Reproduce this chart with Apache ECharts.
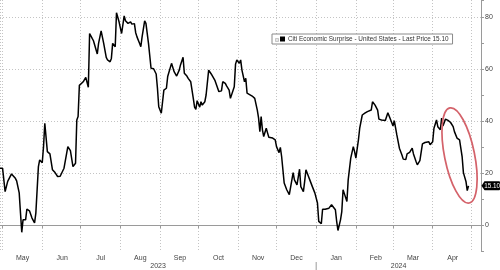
<!DOCTYPE html>
<html><head><meta charset="utf-8">
<script src="https://cdn.jsdelivr.net/npm/echarts@6/dist/echarts.min.js"></script>
<style>html,body{margin:0;padding:0;background:#fff}#c{width:500px;height:270px}</style>
</head><body><div id="c"></div>
<script>
// ---- data ----
const dates = [
'2023-04-29','2023-05-01','2023-05-03','2023-05-05','2023-05-06','2023-05-08','2023-05-11','2023-05-12','2023-05-14','2023-05-15','2023-05-16','2023-05-17','2023-05-19','2023-05-20','2023-05-22','2023-05-24','2023-05-26','2023-05-27','2023-05-29','2023-05-30',
'2023-06-01','2023-06-02','2023-06-03','2023-06-05','2023-06-07','2023-06-09','2023-06-11','2023-06-13','2023-06-15','2023-06-16','2023-06-18','2023-06-19','2023-06-21','2023-06-23','2023-06-24','2023-06-25','2023-06-27','2023-06-28','2023-06-29','2023-06-30',
'2023-07-03','2023-07-05','2023-07-06','2023-07-07','2023-07-08','2023-07-10','2023-07-11','2023-07-12','2023-07-14','2023-07-15','2023-07-17','2023-07-18','2023-07-19','2023-07-21','2023-07-22','2023-07-24','2023-07-25','2023-07-26','2023-07-28','2023-07-29','2023-07-31',
'2023-08-02','2023-08-04','2023-08-05','2023-08-07','2023-08-09','2023-08-10','2023-08-12','2023-08-13','2023-08-14','2023-08-16','2023-08-17','2023-08-18','2023-08-20','2023-08-21','2023-08-23','2023-08-25','2023-08-27','2023-08-29','2023-08-30','2023-08-31',
'2023-09-02','2023-09-03','2023-09-04','2023-09-06','2023-09-07','2023-09-10','2023-09-11','2023-09-12','2023-09-14','2023-09-16','2023-09-17','2023-09-19','2023-09-20','2023-09-22','2023-09-23','2023-09-25','2023-09-27','2023-09-28','2023-09-29','2023-09-30',
'2023-10-01','2023-10-02','2023-10-03','2023-10-04','2023-10-06','2023-10-07','2023-10-08','2023-10-09','2023-10-11','2023-10-13','2023-10-14','2023-10-15','2023-10-17','2023-10-19','2023-10-20','2023-10-22','2023-10-23','2023-10-25','2023-10-26','2023-10-27','2023-10-29','2023-10-30','2023-10-31',
'2023-11-02','2023-11-03','2023-11-04','2023-11-06','2023-11-07','2023-11-08','2023-11-09','2023-11-12','2023-11-14','2023-11-16','2023-11-17','2023-11-18','2023-11-19','2023-11-20','2023-11-21','2023-11-23','2023-11-24','2023-11-25','2023-11-28','2023-11-30',
'2023-12-01','2023-12-03','2023-12-04','2023-12-05','2023-12-07','2023-12-09','2023-12-11','2023-12-12','2023-12-14','2023-12-15','2023-12-17','2023-12-19','2023-12-20','2023-12-22','2023-12-23','2023-12-24','2023-12-26','2023-12-27','2023-12-29','2023-12-31',
'2024-01-02','2024-01-03','2024-01-05','2024-01-06','2024-01-08','2024-01-09','2024-01-11','2024-01-13','2024-01-14','2024-01-16','2024-01-17','2024-01-18','2024-01-20','2024-01-21','2024-01-22','2024-01-23','2024-01-25','2024-01-26','2024-01-28','2024-01-30','2024-01-31',
'2024-02-01','2024-02-03','2024-02-04','2024-02-06','2024-02-08','2024-02-10','2024-02-11','2024-02-13','2024-02-14','2024-02-16','2024-02-18','2024-02-19','2024-02-21','2024-02-22','2024-02-24','2024-02-26','2024-02-27','2024-02-29',
'2024-03-01','2024-03-02','2024-03-03','2024-03-04','2024-03-05','2024-03-06','2024-03-08','2024-03-09','2024-03-11','2024-03-12','2024-03-14','2024-03-15','2024-03-16','2024-03-17','2024-03-19','2024-03-20','2024-03-22','2024-03-23','2024-03-24','2024-03-26','2024-03-27','2024-03-29','2024-03-30',
'2024-04-01','2024-04-02','2024-04-04','2024-04-05','2024-04-07','2024-04-08','2024-04-09','2024-04-11','2024-04-12','2024-04-13','2024-04-15','2024-04-16','2024-04-17','2024-04-18','2024-04-20','2024-04-21','2024-04-22','2024-04-24','2024-04-25','2024-04-26','2024-04-27','2024-04-28','2024-04-29'
];
const values = [
21.9,21.9,12.9,16.8,16.5,19.7,18,17,12.4,4.7,-2.8,2,2,6.1,5.5,2.7,0.8,4.6,22.5,25.1,
24,30.2,39.2,28.3,27.4,21.3,20.2,18.7,18.8,18.1,21.9,21.9,30.2,28.7,28.7,22.5,23.8,40.5,41.8,53.8,
55.2,56.9,56.5,53.1,73.8,71.9,71,70.6,65.9,70,74.8,74.8,70,64.6,63.6,62.9,64.2,70,68.7,81.8,78.3,
73.8,80.6,78.7,77.7,78.3,77.4,77.6,74.1,72.5,70,68.7,72.5,78.7,77.7,70,60.4,60.2,58.2,52.7,45.6,
43.1,47.5,52,52.7,57.2,62.3,61.7,59.1,57.4,59.7,61.7,64.6,58.5,57.4,56.5,55.2,48.8,45.4,44.6,47.9,
48.3,45.4,47.5,46.2,47.5,50.1,50.1,59.7,58.2,56.5,55.6,55.6,51.4,51.7,55.2,54.6,53.6,52,48.8,48.7,53.3,62,63.6,
62.3,63.6,59.7,55.2,56.5,50.8,50.1,49.7,48.8,44.3,41.2,36,41.8,36.7,34.1,37.3,35.5,33.8,33.5,32.8,
30.2,27.9,29.9,26.4,16.2,13.6,11.7,11.8,20.2,17.4,15.5,21.5,14.8,12.9,16.8,21.3,18.7,17.4,14.8,12.3,
8.5,1.4,0.5,6.1,6.1,6.2,6.5,7.8,8.2,5.9,1.4,-2.1,2,5.2,13.6,12.1,9.1,17.4,25.8,30.2,28.3,
25.8,32.8,37.3,42.4,43.1,43.7,43.7,44.3,47.5,46.2,44.3,40.8,40.5,41.2,40.3,43.3,42.8,39.5,
38.2,40.2,40.2,34.7,34.1,29.6,27,25.4,25.2,27.4,28,28.7,29.6,27.4,24.5,23.2,24.8,24.5,31.3,31.8,31.5,32.1,30.9,
32.1,37.3,40.5,37.9,36.7,41.2,38.2,40.8,41.2,40.3,39.5,39.9,37.9,36,33.5,33.8,32.8,26.4,20.2,20,16.8,13.3,15.1
];
const monthLabels = ['Jan','Feb','Mar','Apr','May','Jun','Jul','Aug','Sep','Oct','Nov','Dec'];
const yearLabels = ['2023','2024'];
const seriesName = 'Citi Economic Surprise - United States - Last Price 15.10';
const lastPriceText = '15.10';

// ---- chart ----
const FONT = 'Liberation Sans, Arial, sans-serif';
const xMin = new Date(2023, 3, 29).getTime();
const xMax = new Date(2024, 4, 8, 18).getTime();
const labelEnd = new Date(2024, 4, 1).getTime();
const yearSplit = new Date(2024, 0, 1).getTime();
const lineData = dates.map((d, i) => [d, values[i]]);

const chart = echarts.init(document.getElementById('c'), null, {renderer: 'canvas'});
chart.setOption({
  animation: false,
  backgroundColor: '#fff',
  grid: {left: 0, right: 19, top: 0, bottom: 19, containLabel: false},
  legend: {
    left: 272, top: 34,
    padding: [2, 4, 2, 8],
    borderColor: '#8a8a8a', borderWidth: 1, backgroundColor: '#fff',
    itemWidth: 5, itemHeight: 5, itemGap: 4,
    icon: 'rect',
    textStyle: {fontSize: 6.4, color: '#333', fontFamily: FONT, padding: [0, 0, 0, -2]},
    data: [{name: seriesName, itemStyle: {color: '#000'}}]
  },
  xAxis: {
    type: 'time', min: xMin, max: xMax, splitNumber: 12,
    minInterval: 28 * 864e5, maxInterval: 31 * 864e5,
    axisLine: {lineStyle: {color: '#9a9a9a', width: 1}},
    axisTick: {show: true, length: 3, lineStyle: {color: '#9a9a9a'}},
    splitLine: {show: true, lineStyle: {type: [1, 2], color: '#c4c4c4', width: 1}},
    axisLabel: {
      formatter: v => (v >= labelEnd ? '' : monthLabels[new Date(v).getMonth()]),
      fontSize: 7, color: '#444', fontFamily: FONT, margin: 4,
      align: 'center', padding: [0, 0, 0, 40], hideOverlap: false
    }
  },
  yAxis: {
    type: 'value', position: 'right', min: -10, max: 86.7, interval: 10,
    axisLine: {show: true, lineStyle: {color: '#9a9a9a'}},
    axisTick: {show: true, length: 3, lineStyle: {color: '#9a9a9a'}},
    splitLine: {show: true, lineStyle: {type: [1, 2], color: ['rgba(0,0,0,0)', '#c4c4c4'], width: 1}},
    axisLabel: {
      formatter: v => (Math.abs(v % 20) < 1e-6 ? String(v) : ''),
      fontSize: 7, color: '#444', fontFamily: FONT, margin: 4
    }
  },
  series: [{
    name: seriesName, type: 'line', data: lineData,
    showSymbol: false, symbol: 'none',
    lineStyle: {color: '#000', width: 1.5},
    itemStyle: {color: '#000'}
  }]
});

const px = v => chart.convertToPixel({xAxisIndex: 0}, v);
const py = v => chart.convertToPixel({yAxisIndex: 0}, v);
const xJ = px(yearSplit), x0 = px(xMin), x1 = px(xMax);
const yLast = py(values[values.length - 1]);
const ctr = chart.convertToPixel({gridIndex: 0}, [new Date(2024, 3, 22).getTime(), 26.8]);

chart.setOption({
  graphic: [
    {type: 'text', x: (x0 + xJ) / 2, y: 266, style: {text: yearLabels[0], fontSize: 7, fill: '#444', fontFamily: FONT, align: 'center', verticalAlign: 'middle'}},
    {type: 'text', x: (xJ + x1) / 2, y: 266, style: {text: yearLabels[1], fontSize: 7, fill: '#444', fontFamily: FONT, align: 'center', verticalAlign: 'middle'}},
    {type: 'line', shape: {x1: xJ, y1: 262, x2: xJ, y2: 270}, style: {stroke: '#9a9a9a', lineWidth: 1}},
    {type: 'rect', shape: {x: 275.5, y: 38.5, width: 3, height: 3}, style: {fill: '#e6e6e6', stroke: '#aaa', lineWidth: 0.6}, z: 100},
    {type: 'ellipse', x: ctr[0], y: ctr[1], rotation: 0.2,
     shape: {cx: 0, cy: 0, rx: 15, ry: 48.5},
     style: {fill: null, stroke: '#d4626a', lineWidth: 1.7}, z: 50},
    {type: 'polygon', shape: {points: [[481.5, yLast], [484.5, yLast - 4.5], [484.5, yLast + 4.5]]}, style: {fill: '#000'}, z: 60},
    {type: 'rect', shape: {x: 484, y: yLast - 4.5, width: 16, height: 9, r: 1}, style: {fill: '#000'}, z: 60},
    {type: 'text', x: 492.2, y: yLast + 0.3, style: {text: lastPriceText, fontSize: 6.3, fill: '#fff', fontFamily: FONT, align: 'center', verticalAlign: 'middle'}, z: 61}
  ]
});
</script>
</body></html>
